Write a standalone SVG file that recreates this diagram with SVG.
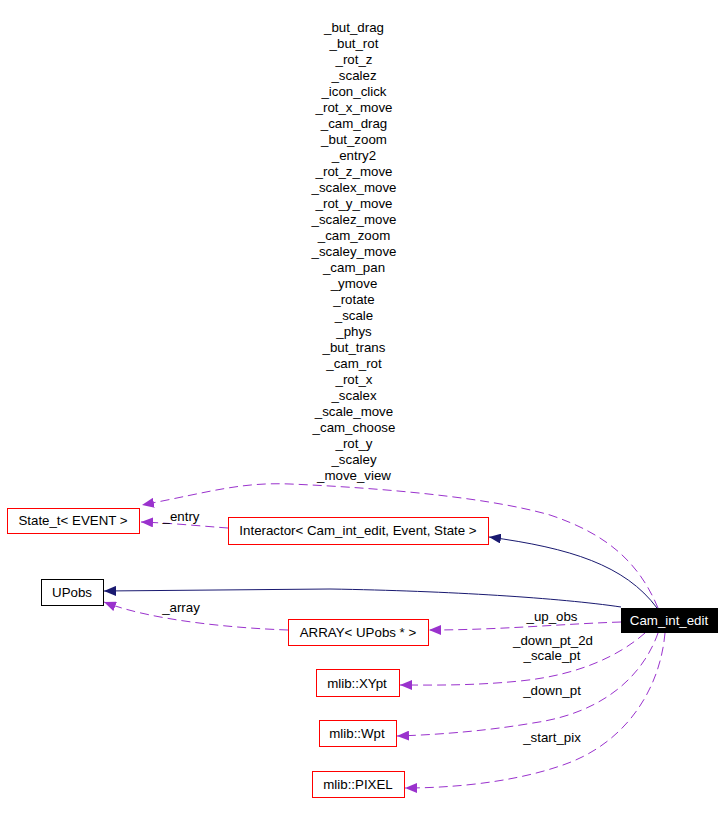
<svg xmlns="http://www.w3.org/2000/svg" width="725" height="813" viewBox="0 0 725 813">
<defs>
<style>
text{font-family:"Liberation Sans",Arial,sans-serif;font-size:13.3px;fill:#000;text-anchor:middle}
.red{fill:#fff;stroke:#ff0000;stroke-width:1}
.blk{fill:#fff;stroke:#000;stroke-width:1}
.dash{fill:none;stroke:#9a32cd;stroke-width:1;stroke-dasharray:9,5}
.solid{fill:none;stroke:#191970;stroke-width:1}
</style>
<marker id="ap" viewBox="0 0 12 10" refX="12" refY="5" markerWidth="12" markerHeight="10" markerUnits="userSpaceOnUse" orient="auto"><path d="M0,0 L12,5 L0,10 Z" fill="#9a32cd"/></marker>
<marker id="an" viewBox="0 0 12 10" refX="12" refY="5" markerWidth="12" markerHeight="10" markerUnits="userSpaceOnUse" orient="auto"><path d="M0,0 L12,5 L0,10 Z" fill="#191970"/></marker>
</defs>
<rect width="725" height="813" fill="#fff"/>
<g id="connectors">
<path class="dash" marker-end="url(#ap)" d="M658,608 C640,565 610,535 550,515 C480,495 360,487 290,484 C240,482 210,492 142,505"/>
<path class="dash" marker-end="url(#ap)" d="M228,528 C200,526 170,523 141,522"/>
<path class="solid" marker-end="url(#an)" d="M657,608 C625,565 570,548 489,537"/>
<path class="solid" marker-end="url(#an)" d="M621,607 C560,598 450,591 330,589 L104,591"/>
<path class="dash" marker-end="url(#ap)" d="M288,630 C230,628 150,620 104,602"/>
<path class="dash" marker-end="url(#ap)" d="M621,622 C560,624 500,630 429,630"/>
<path class="dash" marker-end="url(#ap)" d="M645,633 C620,655 580,675 520,681 C470,686 430,685 400,685"/>
<path class="dash" marker-end="url(#ap)" d="M658,633 C645,670 610,712 533,723 C480,732 430,735 397,736"/>
<path class="dash" marker-end="url(#ap)" d="M665,633 C660,690 625,745 560,766 C510,783 450,788 405,788"/>
<text x="181" y="521">_entry</text>
<text x="181" y="612">_array</text>
<text x="552" y="621">_up_obs</text>
<text x="553" y="645">_down_pt_2d</text>
<text x="552" y="660">_scale_pt</text>
<text x="552" y="695">_down_pt</text>
<text x="552" y="742">_start_pix</text>
<g id="multi-labels">
<text x="354" y="32">_but_drag</text>
<text x="354" y="48">_but_rot</text>
<text x="354" y="64">_rot_z</text>
<text x="354" y="80">_scalez</text>
<text x="354" y="96">_icon_click</text>
<text x="354" y="112">_rot_x_move</text>
<text x="354" y="128">_cam_drag</text>
<text x="354" y="144">_but_zoom</text>
<text x="354" y="160">_entry2</text>
<text x="354" y="176">_rot_z_move</text>
<text x="354" y="192">_scalex_move</text>
<text x="354" y="208">_rot_y_move</text>
<text x="354" y="224">_scalez_move</text>
<text x="354" y="240">_cam_zoom</text>
<text x="354" y="256">_scaley_move</text>
<text x="354" y="272">_cam_pan</text>
<text x="354" y="288">_ymove</text>
<text x="354" y="304">_rotate</text>
<text x="354" y="320">_scale</text>
<text x="354" y="336">_phys</text>
<text x="354" y="352">_but_trans</text>
<text x="354" y="368">_cam_rot</text>
<text x="354" y="384">_rot_x</text>
<text x="354" y="400">_scalex</text>
<text x="354" y="416">_scale_move</text>
<text x="354" y="432">_cam_choose</text>
<text x="354" y="448">_rot_y</text>
<text x="354" y="464">_scaley</text>
<text x="354" y="480">_move_view</text>
</g>
</g>
<g id="state_t"><rect class="red" x="7.5" y="508.5" width="132" height="25"/><text x="73" y="525">State_t&lt; EVENT &gt;</text></g>
<g id="interactor"><rect class="red" x="228.5" y="517.5" width="260" height="27"/><text x="358" y="535">Interactor&lt; Cam_int_edit, Event, State &gt;</text></g>
<g id="upobs"><rect class="blk" x="41.5" y="579.5" width="62" height="26"/><text x="72" y="597">UPobs</text></g>
<g id="array"><rect class="red" x="288.5" y="619.5" width="140" height="26"/><text x="358" y="637">ARRAY&lt; UPobs * &gt;</text></g>
<g id="cam_int_edit"><rect x="621" y="608" width="97" height="25" fill="#000"/><text x="669" y="625" style="fill:#fff">Cam_int_edit</text></g>
<g id="xypt"><rect class="red" x="316.5" y="669.5" width="83" height="27"/><text x="357" y="688">mlib::XYpt</text></g>
<g id="wpt"><rect class="red" x="319.5" y="720.5" width="77" height="26"/><text x="357" y="738">mlib::Wpt</text></g>
<g id="pixel"><rect class="red" x="312.5" y="771.5" width="92" height="26"/><text x="358" y="789">mlib::PIXEL</text></g>
</svg>
